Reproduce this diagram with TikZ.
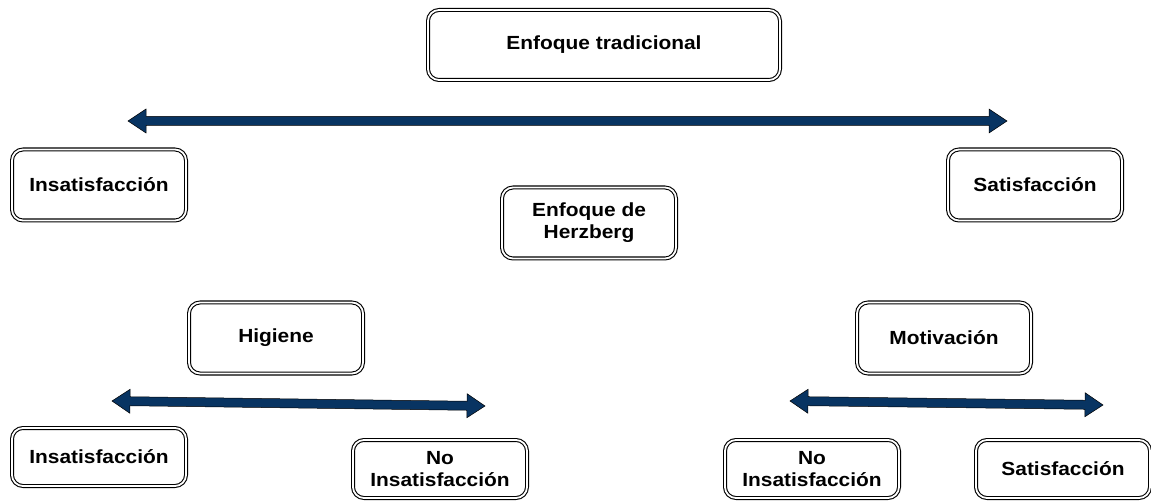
\documentclass[tikz,border=0pt]{standalone}
\usepackage{fontspec}
\setmainfont[FakeStretch=1.1]{Liberation Sans}
\usetikzlibrary{calc}
\definecolor{nachtblau}{RGB}{8,52,98}

% Blockpfeil mit zwei Spitzen von #1 nach #2
\newcommand{\blockpfeil}[2]{%
  \filldraw[pfeil] (#1)
    -- ($(#1)!18pt!(#2)!12pt!90:(#2)$) -- ($(#1)!18pt!(#2)!4.5pt!90:(#2)$)
    -- ($(#2)!18pt!(#1)!4.5pt!-90:(#1)$) -- ($(#2)!18pt!(#1)!12pt!-90:(#1)$)
    -- (#2)
    -- ($(#2)!18pt!(#1)!12pt!90:(#1)$) -- ($(#2)!18pt!(#1)!4.5pt!90:(#1)$)
    -- ($(#1)!18pt!(#2)!4.5pt!-90:(#2)$) -- ($(#1)!18pt!(#2)!12pt!-90:(#2)$)
    -- cycle;}

\begin{document}
\begin{tikzpicture}[x=1pt, y=1pt,
  kasten/.style={draw, double, double distance=1.8pt, line width=1.1pt, rounded corners=11pt,
    minimum width=174pt, minimum height=71pt, align=center,
    font=\fontsize{19}{22}\selectfont\bfseries},
  flach/.style={kasten, minimum height=58pt},
  pfeil/.style={fill=nachtblau, draw=black, line width=0.5pt, line join=miter}]

\useasboundingbox (0,0) rectangle (1151,501); % Rahmen

% Oben: traditioneller Ansatz
\node[kasten, minimum width=352pt, minimum height=70pt] (trad) at (604,456) {Enfoque tradicional};
\coordinate (tl) at (128,380);
\coordinate (tr) at (1007,380);
\blockpfeil{tl}{tr}
\node[kasten] (insat) at (99,316) {Insatisfacción};
\node[kasten] (sat) at (1035,316) {Satisfacción};

% Mitte
\node[kasten] (herz) at (589,278) {Enfoque de\\Herzberg};

% Hygienefaktoren
\node[kasten] (hig) at (276,163) {Higiene};
\coordinate (hl) at (112,100);
\coordinate (hr) at (485,95);
\blockpfeil{hl}{hr}
\node[flach] (hinsat) at (99,44) {Insatisfacción};
\node[flach] (hnoinsat) at (440,32) {No\\Insatisfacción};

% Motivatoren
\node[kasten] (mot) at (944,163) {Motivación};
\coordinate (ml) at (790,100);
\coordinate (mr) at (1103,96);
\blockpfeil{ml}{mr}
\node[flach] (mnoinsat) at (812,32) {No\\Insatisfacción};
\node[flach] (msat) at (1063,32) {Satisfacción};

\end{tikzpicture}
\end{document}
